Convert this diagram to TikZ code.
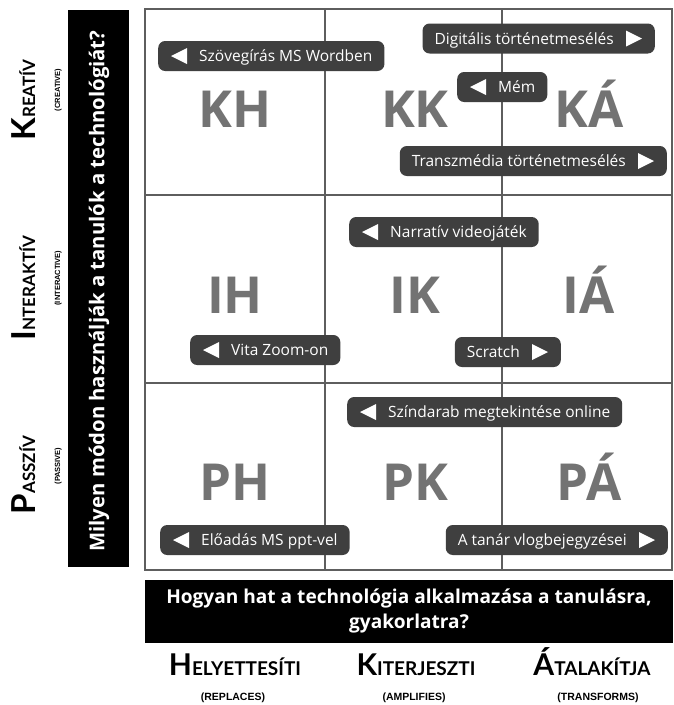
\documentclass[tikz,border=0pt]{standalone}
\usepackage{fontspec}
\setmainfont{Open Sans}
\newfontfamily\capfont{Lato}
\newfontfamily\tagfont{Liberation Sans}

\definecolor{gridgray}{HTML}{5E5E5E}
\definecolor{pillgray}{HTML}{3F3F3F}
\definecolor{codegray}{HTML}{737373}

% pill with a left-pointing triangle: name, left x, centre y, text
\newcommand\lpill[4]{%
  \node[pill, anchor=west] (#1) at (#2,#3) {\hspace*{29pt}#4};
  \fill[white] ([xshift=13pt]#1.west) -- ([xshift=29pt,yshift=8pt]#1.west)
    -- ([xshift=29pt,yshift=-8pt]#1.west) -- cycle;}
% pill with a right-pointing triangle: name, right x, centre y, text
\newcommand\rpill[4]{%
  \node[pill, anchor=east] (#1) at (#2,#3) {#4\hspace*{29pt}};
  \fill[white] ([xshift=-13pt]#1.east) -- ([xshift=-29pt,yshift=8pt]#1.east)
    -- ([xshift=-29pt,yshift=-8pt]#1.east) -- cycle;}

\begin{document}
\begin{tikzpicture}[x=1pt,y=-1pt,
  gridline/.style={draw=gridgray, line width=1.3pt},
  pill/.style={fill=pillgray, rounded corners=7pt, minimum height=30pt,
    inner xsep=12pt, inner ysep=0pt, text=white, text height=11pt, text depth=0pt,
    font=\fontsize{15.5}{18}\selectfont},
  bigcode/.style={text=codegray, font=\bfseries\fontsize{51}{51}\selectfont,
    anchor=base, inner sep=0pt},
  bartext/.style={text=white, font=\bfseries\fontsize{19.1}{25}\selectfont, align=center},
  levellabel/.style={font=\capfont\bfseries, inner sep=0pt, anchor=base},
  tag/.style={font=\tagfont\bfseries\fontsize{10.5}{10.5}\selectfont, inner sep=0pt, anchor=base},
  sidetag/.style={font=\tagfont\bfseries\fontsize{7.5}{7.5}\selectfont, inner sep=0pt,
    anchor=base, rotate=90},
]
\useasboundingbox (0,0) rectangle (673,705);
\fill[white] (0,0) rectangle (673,705);

% 3x3 grid
\draw[gridline] (145,9) rectangle (672,570);
\draw[gridline] (325,9) -- (325,570);
\draw[gridline] (502,9) -- (502,570);
\draw[gridline] (145,195) -- (672,195);
\draw[gridline] (145,383) -- (672,383);

% cell codes
\node[bigcode] (KH) at (235,127) {KH};
\node[bigcode] (KK) at (415,127) {KK};
\node[bigcode] (KA) at (589,127) {KÁ};
\node[bigcode] (IH) at (235,313) {IH};
\node[bigcode] (IK) at (415,313) {IK};
\node[bigcode] (IA) at (589,313) {IÁ};
\node[bigcode] (PH) at (235,500) {PH};
\node[bigcode] (PK) at (415,500) {PK};
\node[bigcode] (PA) at (589,500) {PÁ};

% examples
\lpill{wordben}{158}{56}{Szövegírás MS Wordben}
\rpill{digitalis}{655}{38.5}{Digitális történetmesélés}
\lpill{mem}{457}{87}{Mém}
\rpill{transzmedia}{667}{161}{Transzmédia történetmesélés}
\lpill{narrativ}{349}{232}{Narratív videojáték}
\lpill{vita}{190}{350}{Vita Zoom-on}
\rpill{scratch}{561}{352}{Scratch}
\lpill{szindarab}{347}{412}{Színdarab megtekintése online}
\lpill{eloadas}{160}{540}{Előadás MS ppt-vel}
\rpill{vlog}{668}{540}{A tanár vlogbejegyzései}

% vertical question bar
\fill[black] (68,10) rectangle (129,567);
\node[bartext, rotate=90, font=\bfseries\fontsize{20.3}{25}\selectfont] (question) at (99,291) {Milyen módon használják a tanulók a technológiát?};

% horizontal question bar
\fill[black] (145,580) rectangle (673,643);
\node[bartext] (howq) at (409,611) {Hogyan hat a technológia alkalmazása a tanulásra,\\ gyakorlatra?};

% row labels
\node[levellabel, rotate=90] (kreativ) at (35,100) {{\fontsize{33}{33}\selectfont K}{\fontsize{17}{17}\selectfont REATÍV}};
\node[sidetag] (creative) at (60,90) {(CREATIVE)};
\node[levellabel, rotate=90] (interaktiv) at (35,288) {{\fontsize{33}{33}\selectfont I}{\fontsize{17}{17}\selectfont NTERAKTÍV}};
\node[sidetag] (interactive) at (60,278) {(INTERACTIVE)};
\node[levellabel, rotate=90] (passziv) at (35,475) {{\fontsize{33}{33}\selectfont P}{\fontsize{17}{17}\selectfont ASSZÍV}};
\node[sidetag] (passive) at (60,466) {(PASSIVE)};

% column labels
\node[levellabel] (helyettesiti) at (235,675) {{\fontsize{30}{30}\selectfont H}{\fontsize{19}{19}\selectfont ELYETTESÍTI}};
\node[tag] (replaces) at (233,700) {(REPLACES)};
\node[levellabel] (kiterjeszti) at (416,675) {{\fontsize{30}{30}\selectfont K}{\fontsize{19}{19}\selectfont ITERJESZTI}};
\node[tag] (amplifies) at (414,700) {(AMPLIFIES)};
\node[levellabel] (atalakitja) at (592,675) {{\fontsize{30}{30}\selectfont Á}{\fontsize{19}{19}\selectfont TALAKÍTJA}};
\node[tag] (transforms) at (598,700) {(TRANSFORMS)};
\end{tikzpicture}
\end{document}
